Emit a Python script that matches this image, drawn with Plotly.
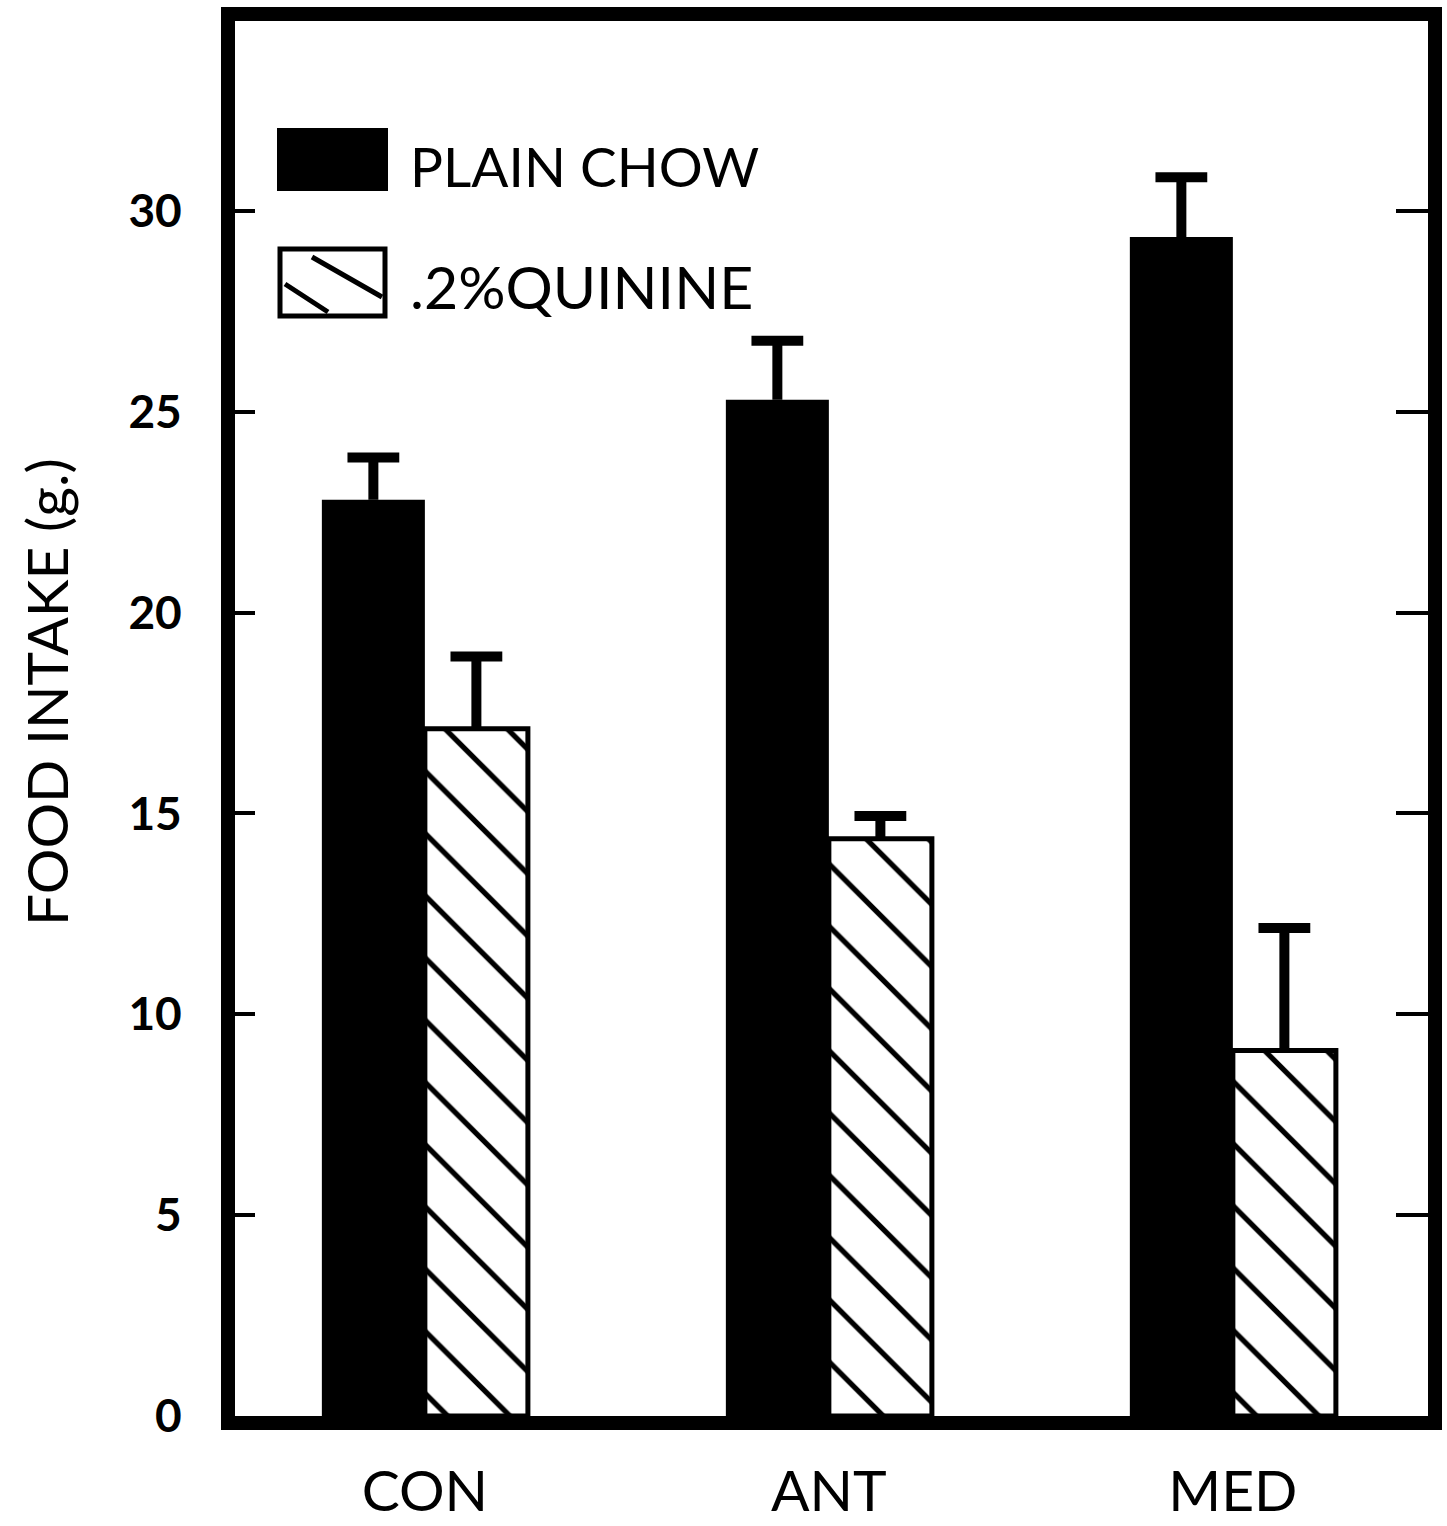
import plotly.graph_objects as go

# Groups and mean food intake (g) with upward SEM bars
groups = ["CON", "ANT", "MED"]
plain_chow = [22.81, 25.30, 29.35]
plain_chow_sem = [1.05, 1.47, 1.49]
quinine = [17.11, 14.37, 9.10]
quinine_sem = [1.80, 0.57, 3.05]

series_names = ["PLAIN CHOW", ".2% QUININE"]
y_ticks = [0, 5, 10, 15, 20, 25, 30]
y_title = "FOOD INTAKE (g.)"

FONT = "Lato"
BAR_W = 0.255
pos = list(range(len(groups)))
chow_centers = [p - BAR_W / 2 for p in pos]
quin_centers = [p + BAR_W / 2 for p in pos]

STEM = dict(type="data", symmetric=False, color="black", thickness=10, width=0)

fig = go.Figure()

# Plain chow: solid black bars, error stems upward only
fig.add_trace(go.Bar(
    x=pos, y=plain_chow, width=BAR_W, offset=-BAR_W,
    marker=dict(color="black", line=dict(width=0)),
    error_y=dict(array=plain_chow_sem, arrayminus=[0] * 3, **STEM),
    name=series_names[0],
))

# Quinine: hatched bars with black outline
fig.add_trace(go.Bar(
    x=pos, y=quinine, width=BAR_W, offset=0, yaxis="y2",
    marker=dict(color="white", line=dict(color="black", width=5),
                pattern=dict(shape="\\", fgcolor="black", bgcolor="white",
                             size=44, solidity=0.12, fillmode="replace")),
    error_y=dict(array=quinine_sem, arrayminus=[0] * 3, **STEM),
    name=series_names[1],
))

# Caps on top of the error stems
fig.add_trace(go.Scatter(
    x=chow_centers + quin_centers,
    y=[m + s for m, s in zip(plain_chow, plain_chow_sem)]
      + [m + s for m, s in zip(quinine, quinine_sem)],
    mode="markers", hoverinfo="skip", showlegend=False,
    marker=dict(symbol="line-ew", size=37, color="black",
                line=dict(color="black", width=10)),
))

# Legend drawn as shapes + text inside the plot
PX_L, PX_R, PX_T, PX_B = 235, 1428, 21, 1416


def px(xp):
    return (xp - PX_L) / (PX_R - PX_L)


def py(yp):
    return (PX_B - yp) / (PX_B - PX_T)


shapes = [
    dict(type="rect", xref="paper", yref="paper",
         x0=px(277), x1=px(388), y0=py(191), y1=py(128),
         fillcolor="black", line=dict(width=0)),
    dict(type="rect", xref="paper", yref="paper",
         x0=px(280), x1=px(385), y0=py(316), y1=py(249),
         fillcolor="white", line=dict(color="black", width=5)),
    dict(type="line", xref="paper", yref="paper",
         x0=px(312), y0=py(257), x1=px(382), y1=py(297),
         line=dict(color="black", width=5)),
    dict(type="line", xref="paper", yref="paper",
         x0=px(285), y0=py(284), x1=px(328), y1=py(312),
         line=dict(color="black", width=5)),
]

annotations = [
    dict(text=series_names[0], xref="paper", yref="paper",
         x=px(408), y=py(166), xanchor="left", yanchor="middle",
         showarrow=False, font=dict(family=FONT, size=55, color="black")),
    dict(text=series_names[1].replace("% ", "%"), xref="paper", yref="paper",
         x=px(408), y=py(287), xanchor="left", yanchor="middle",
         showarrow=False, font=dict(family=FONT, size=59, color="black")),
    dict(text=y_title, xref="paper", yref="paper",
         x=px(46), y=py(692), xanchor="center", yanchor="middle",
         textangle=-90, showarrow=False,
         font=dict(family=FONT, size=57, color="black")),
]

Y_RANGE = [0, 34.73]

fig.update_layout(
    width=1447, height=1526,
    margin=dict(l=PX_L, r=1447 - PX_R, t=PX_T, b=1526 - PX_B),
    paper_bgcolor="white", plot_bgcolor="white",
    barmode="overlay", showlegend=False,
    shapes=shapes, annotations=annotations,
    xaxis=dict(
        range=[-0.470, 2.483], tickvals=pos, ticktext=groups,
        ticks="", showline=True, linewidth=14, linecolor="black",
        mirror=True, showgrid=False, zeroline=False, automargin=False,
        tickfont=dict(family=FONT, size=57, color="black"),
        ticklabelstandoff=13,
    ),
    yaxis=dict(
        range=Y_RANGE, tickvals=y_ticks, ticks="inside",
        ticklen=20, tickwidth=4, tickcolor="black",
        showline=True, linewidth=14, linecolor="black", mirror=True,
        showgrid=False, zeroline=False, automargin=False,
        tickfont=dict(family=FONT, size=46, color="black", weight="bold"),
        ticklabelstandoff=30,
    ),
    yaxis2=dict(
        range=Y_RANGE, overlaying="y", side="right",
        ticks="inside", ticklen=32, tickwidth=4, tickcolor="black",
        tickvals=y_ticks, showticklabels=False, automargin=False,
        showline=False, showgrid=False, zeroline=False,
    ),
)

fig.write_html("out.html")
